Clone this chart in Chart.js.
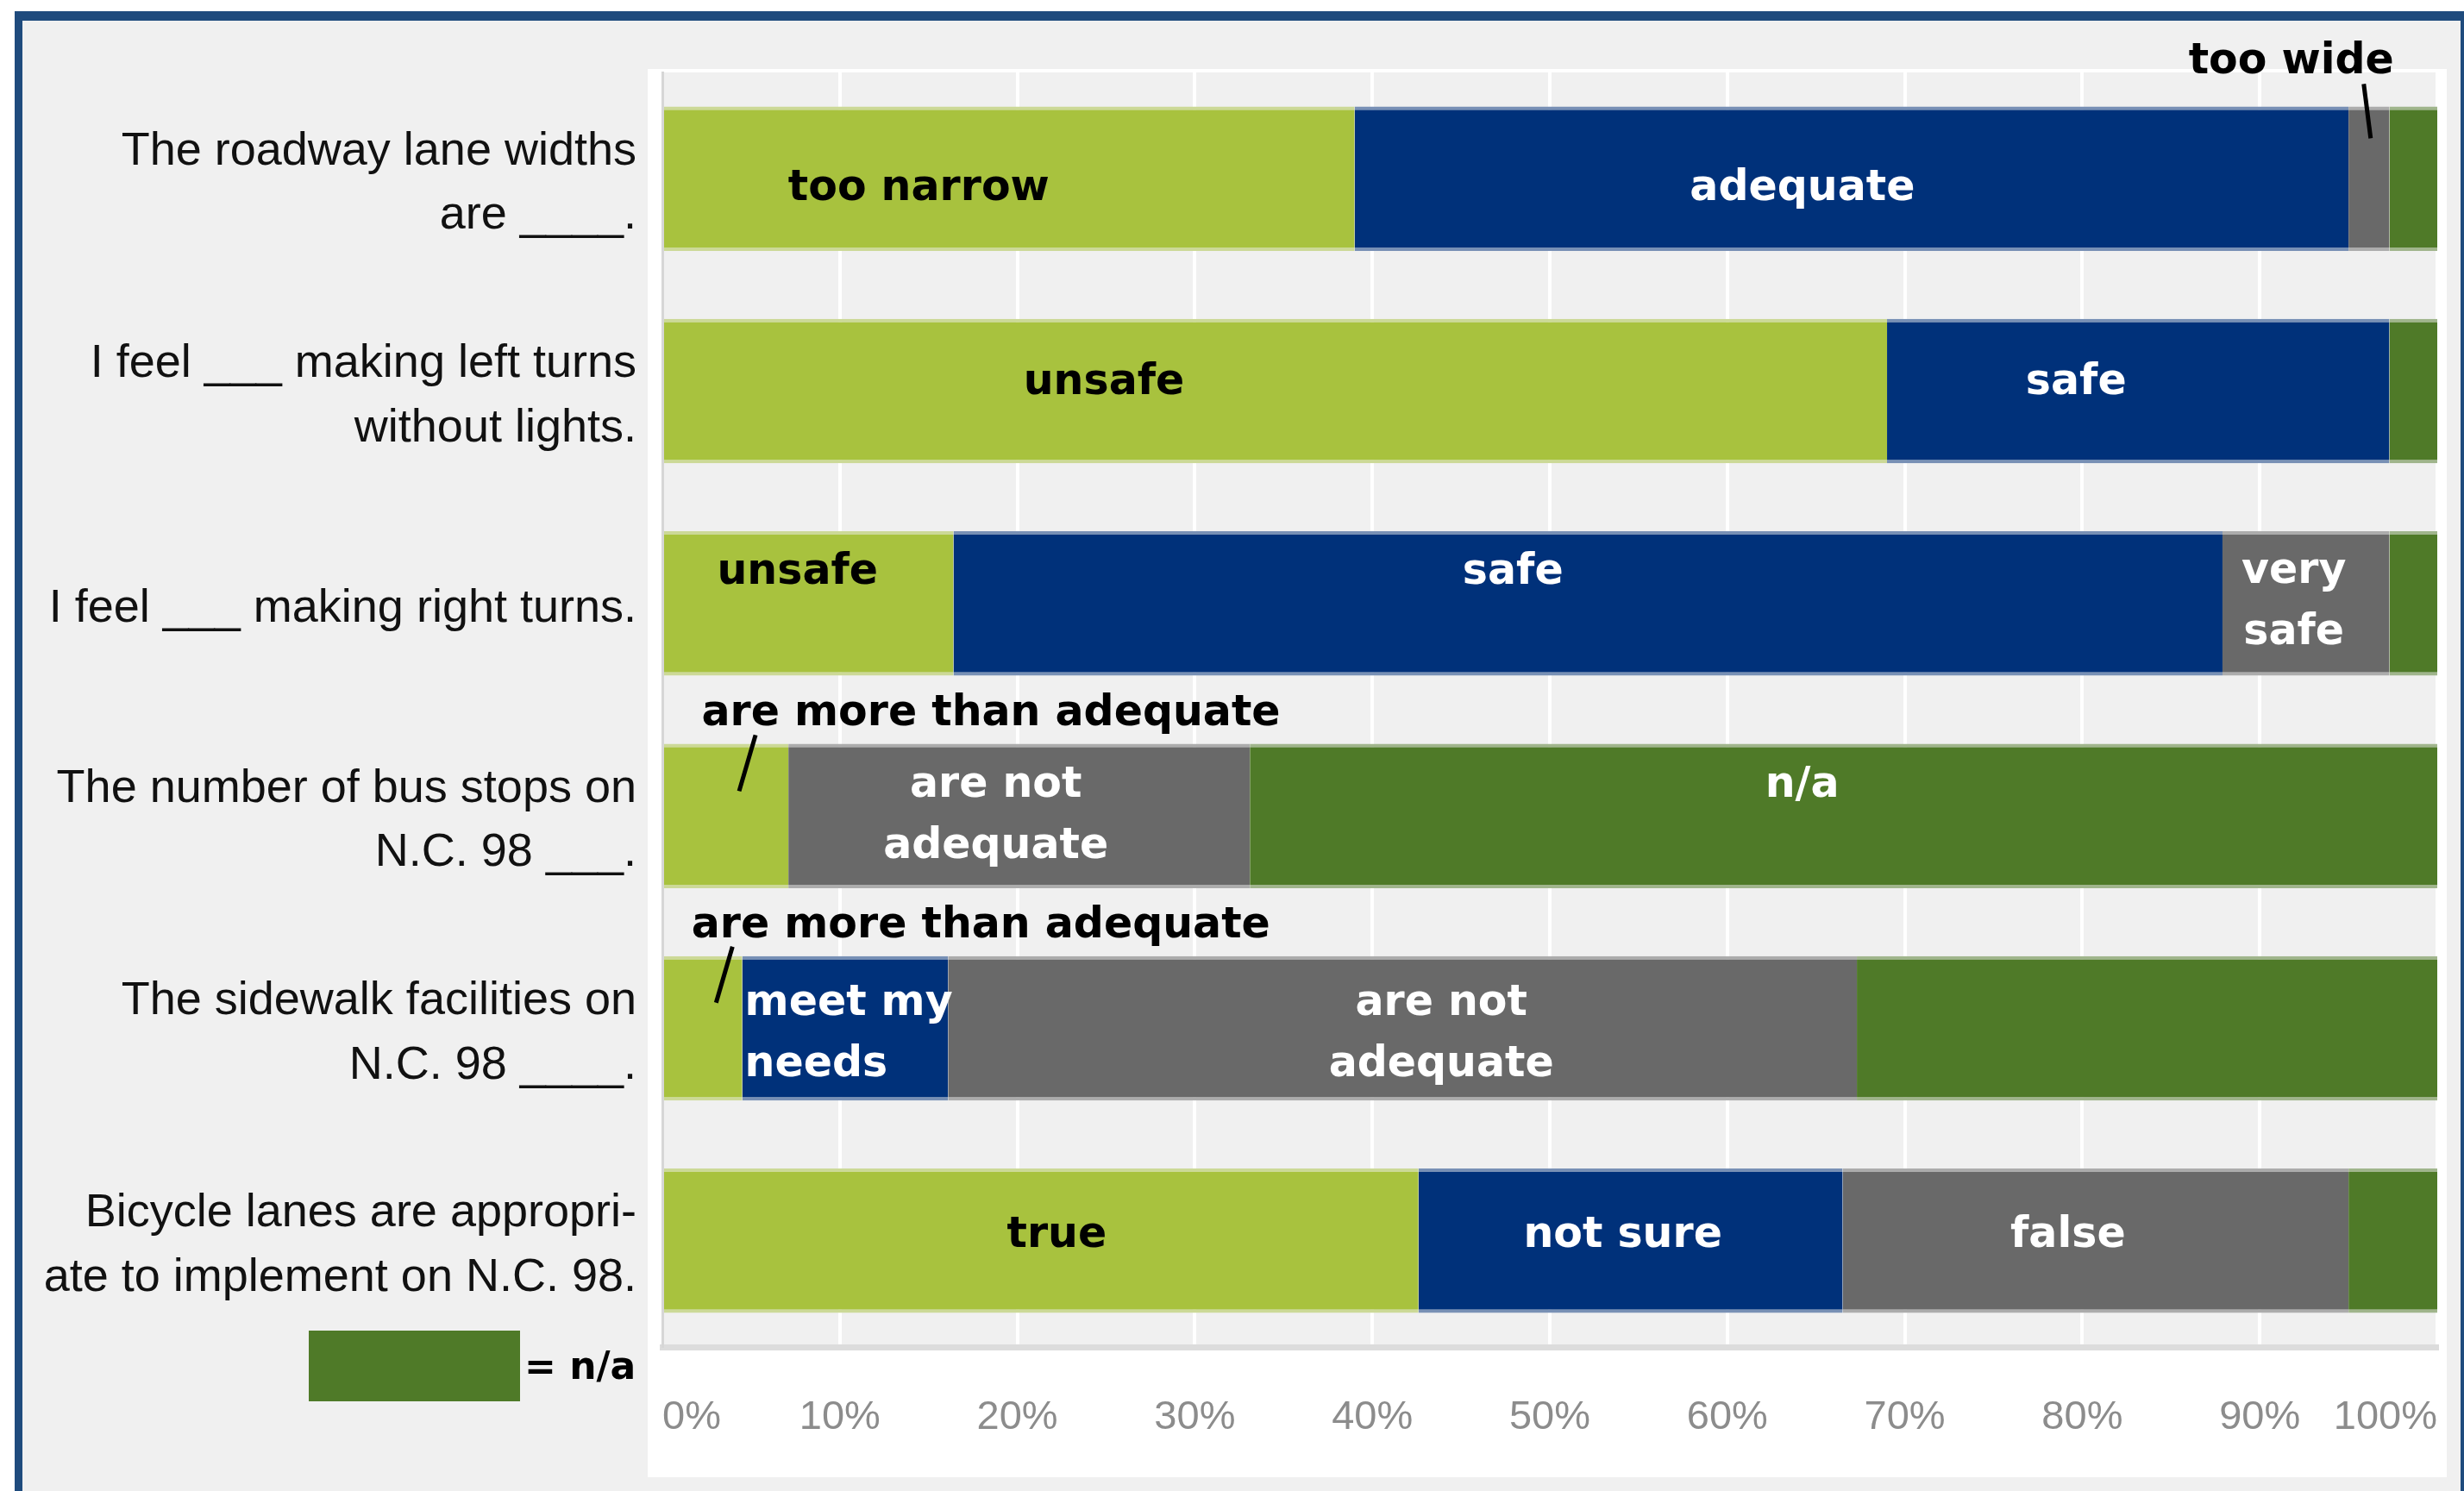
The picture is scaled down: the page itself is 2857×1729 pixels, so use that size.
<!DOCTYPE html>
<html>
<head>
<meta charset="utf-8">
<title>N.C. 98 corridor survey</title>
<script src="https://cdn.jsdelivr.net/npm/chart.js@4.4.1/dist/chart.umd.min.js"></script>
<style>
  html, body { margin: 0; padding: 0; background: #ffffff; }
  #wrap { width: 2857px; height: 1729px; }
</style>
</head>
<body>
<div id="wrap"><canvas id="survey" width="2857" height="1729"></canvas></div>
<script>
// survey statements (y axis)
var questions = [
    ['The roadway lane widths', 'are ____.'],
    ['I feel ___ making left turns', 'without lights.'],
    'I feel ___ making right turns.',
    ['The number of bus stops on', 'N.C. 98 ___.'],
    ['The sidewalk facilities on', 'N.C. 98 ____.'],
    ['Bicycle lanes are appropri-', 'ate to implement on N.C. 98.']
];

// share of responses in percent, one array per answer position
var firstAnswer = [39, 69, 16.4, 7.1, 4.5, 42.6];
var secondAnswer = [56, 28.3, 71.5, 0, 11.6, 23.9];
var thirdAnswer = [2.3, 0, 9.4, 26, 51.2, 28.5];
var notApplicable = [2.7, 2.7, 2.7, 66.9, 32.7, 5];

// the answer text written on each segment
var firstText = ['too narrow', 'unsafe', 'unsafe', 'are more than adequate', 'are more than adequate', 'true'];
var secondText = ['adequate', 'safe', 'safe', '', 'meet my\nneeds', 'not sure'];
var thirdText = ['too wide', '', 'very\nsafe', 'are not\nadequate', 'are not\nadequate', 'false'];
var naText = ['', '', '', 'n/a', '', ''];

var xTicks = [0, 10, 20, 30, 40, 50, 60, 70, 80, 90, 100];

var fills = ['#A8C23E', '#00317A', '#696969', '#4F7A28'];
var edges = ['#CCD997', '#7890B5', '#ACACAC', '#A0B58C'];
var segmentTexts = [firstText, secondText, thirdText, naText];

// small hand nudges so the text sits where the original text boxes were
var nudges = {
    '0-0': { dx: -105, dy: 7 }, '1-0': { dx: -57, dy: 7 },
    '0-1': { dx: -199, dy: -14 }, '1-1': { dx: -72, dy: -14 },
    '0-2': { dx: -13, dy: -41 }, '1-2': { dx: -87, dy: -41 }, '2-2': { dx: -14, dy: -6 },
    '2-3': { dx: -27, dy: -4 }, '3-3': { dx: -48, dy: -40 },
    '1-4': { dx: 3, dy: 2, align: 'left' }, '2-4': { dx: 45, dy: 2 },
    '0-5': { dx: 18, dy: -11 }, '1-5': { dx: -9, dy: -11 }, '2-5': { dx: -32, dy: -11 }
};
var TEXT_DROP = 5; // canvas 'middle' sits a little high for this font

// segments too thin for their text get a label above the bar and a leader line
// (offsets from segment centre / bar top)
var callouts = {
    '2-0': { dx: -90, dy: -51, line: [-6, -26, 2, 37] },
    '0-3': { dx: 307, dy: -34, line: [34, -10, 15, 55] },
    '0-4': { dx: 322, dy: -34, line: [34, -11, 15, 54] }
};

var LABEL_FONT = 'bold 49px "DejaVu Sans"';

var backdrop = {
    id: 'backdrop',
    beforeDraw: function(chart) {
        var ctx = chart.ctx;
        var area = chart.chartArea;
        ctx.save();
        ctx.fillStyle = '#FFFFFF';
        ctx.fillRect(0, 0, chart.width, chart.height);
        // blue frame, open at the bottom
        ctx.fillStyle = '#1F4B7D';
        ctx.fillRect(17, 13, chart.width - 17, chart.height - 13);
        ctx.fillStyle = '#F0F0F0';
        ctx.fillRect(26, 24, chart.width - 30, chart.height - 24);
        // white panel behind the plot and the axis labels
        ctx.fillStyle = '#FFFFFF';
        ctx.fillRect(area.left - 17, area.top - 4, area.right - area.left + 28, 1713 - area.top + 4);
        ctx.fillStyle = '#F0F0F0';
        ctx.fillRect(area.left - 2, area.top, area.right - area.left + 2, area.bottom - area.top);
        ctx.restore();
    },
    afterDraw: function(chart) {
        // n/a key under the statements
        var ctx = chart.ctx;
        ctx.save();
        ctx.fillStyle = fills[3];
        ctx.fillRect(358, 1543, 245, 82);
        ctx.fillStyle = '#000000';
        ctx.font = 'bold 44px "DejaVu Sans"';
        ctx.textAlign = 'left';
        ctx.textBaseline = 'middle';
        ctx.fillText('= n/a', 608, 1588);
        ctx.restore();
    }
};

var segmentLabels = {
    id: 'segmentLabels',
    afterDatasetsDraw: function(chart) {
        var ctx = chart.ctx;
        ctx.save();
        ctx.font = LABEL_FONT;
        chart.data.datasets.forEach(function(ds, d) {
            var meta = chart.getDatasetMeta(d);
            meta.data.forEach(function(bar, i) {
                var text = segmentTexts[d][i];
                if (!text || !ds.data[i]) return;
                var p = bar.getProps(['x', 'base', 'y', 'height'], true);
                var cx = (p.x + p.base) / 2;
                var key = d + '-' + i;

                if (callouts[key]) {
                    var c = callouts[key];
                    var top = p.y - p.height / 2;
                    ctx.strokeStyle = '#000000';
                    ctx.lineWidth = 5;
                    ctx.beginPath();
                    ctx.moveTo(cx + c.line[0], top + c.line[1]);
                    ctx.lineTo(cx + c.line[2], top + c.line[3]);
                    ctx.stroke();
                    ctx.fillStyle = '#000000';
                    ctx.textAlign = 'center';
                    ctx.textBaseline = 'middle';
                    ctx.fillText(text, cx + c.dx, top + c.dy);
                    return;
                }

                var n = nudges[key] || { dx: 0, dy: 0 };
                var lines = text.split('\n');
                var lh = 71;
                var x = n.align === 'left' ? Math.min(p.x, p.base) + n.dx : cx + n.dx;
                var y0 = p.y + n.dy + TEXT_DROP - (lines.length - 1) * lh / 2;
                ctx.fillStyle = d === 0 ? '#000000' : '#FFFFFF';
                ctx.textAlign = n.align || 'center';
                ctx.textBaseline = 'middle';
                lines.forEach(function(line, k) {
                    ctx.fillText(line, x, y0 + k * lh);
                });
            });
        });
        ctx.restore();
    }
};

function makeSet(label, values, idx) {
    return {
        label: label,
        data: values,
        backgroundColor: fills[idx],
        borderColor: edges[idx],
        borderWidth: { top: 4, bottom: 4, left: 0, right: 0 },
        borderSkipped: false,
        barPercentage: 0.68,
        categoryPercentage: 1
    };
}

// fixed axis sizes, and no extra room for overhanging tick labels
function fixBox(w, h) {
    return function(scale) {
        if (w) scale.width = w;
        if (h) scale.height = h;
        scale.paddingTop = 0;
        scale.paddingBottom = 0;
        scale.paddingLeft = 0;
        scale.paddingRight = 0;
    };
}

new Chart(document.getElementById('survey'), {
    type: 'bar',
    data: {
        labels: questions,
        datasets: [
            makeSet('first answer', firstAnswer, 0),
            makeSet('second answer', secondAnswer, 1),
            makeSet('third answer', thirdAnswer, 2),
            makeSet('n/a', notApplicable, 3)
        ]
    },
    options: {
        indexAxis: 'y',
        responsive: false,
        devicePixelRatio: 1,
        animation: false,
        layout: { padding: { top: 84, right: 31, bottom: 0, left: 0 } },
        plugins: {
            legend: { display: false },
            tooltip: { enabled: false }
        },
        scales: {
            x: {
                stacked: true,
                min: 0,
                max: 100,
                afterBuildTicks: function(scale) {
                    scale.ticks = xTicks.map(function(v) { return { value: v }; });
                },
                ticks: {
                    align: 'inner',
                    padding: 54,
                    color: '#8C8C8C',
                    font: { family: 'Liberation Sans', size: 47 },
                    callback: function(v) { return v + '%'; }
                },
                grid: { color: '#FFFFFF', lineWidth: 4, drawTicks: false },
                border: { display: true, color: '#DCDCDC', width: 7 },
                afterFit: fixBox(0, 167)
            },
            y: {
                stacked: true,
                ticks: {
                    padding: 30,
                    labelOffset: 6,
                    color: '#111111',
                    font: { family: 'Liberation Sans', size: 54, lineHeight: 1.38 }
                },
                grid: { display: true, color: 'rgba(0,0,0,0)', drawTicks: false },
                border: { display: true, color: '#D6D6D6', width: 3 },
                afterFit: fixBox(768, 0)
            }
        }
    },
    plugins: [backdrop, segmentLabels]
});
</script>
</body>
</html>
